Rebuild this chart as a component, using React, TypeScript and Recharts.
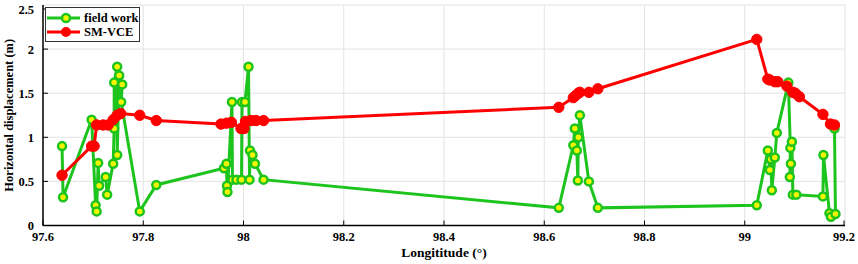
import React from 'react';
import { CartesianGrid, Line, LineChart, XAxis, YAxis } from 'recharts';

// field work (green), in the order the line visits them
const fieldLon = [
  97.638, 97.64, 97.697, 97.705, 97.707, 97.71, 97.712, 97.725, 97.728, 97.74,
  97.742, 97.742, 97.748, 97.748, 97.752, 97.758, 97.756, 97.793, 97.826,
  97.961, 97.966, 97.967, 97.968, 97.977, 97.978, 97.986, 97.996, 97.997, 98.003,
  98.01, 98.012, 98.013, 98.018, 98.023, 98.04,
  98.629, 98.658, 98.661, 98.665, 98.667, 98.668, 98.671, 98.689, 98.707,
  99.024, 99.046, 99.05, 99.052, 99.054, 99.06, 99.064, 99.087, 99.091, 99.09,
  99.092, 99.094, 99.096, 99.103, 99.156, 99.157, 99.169, 99.172, 99.181, 99.179,
];
const fieldVal = [
  0.9, 0.32, 1.2, 0.23, 0.16, 0.71, 0.45, 0.55, 0.35, 0.7,
  1.1, 1.62, 1.8, 0.8, 1.7, 1.6, 1.4, 0.16, 0.46,
  0.65, 0.7, 0.45, 0.38, 1.4, 0.52, 0.52, 0.52, 1.4, 1.4,
  1.8, 0.52, 0.85, 0.8, 0.7, 0.52,
  0.2, 0.91, 1.1, 0.85, 0.51, 1.0, 1.25, 0.5, 0.2,
  0.23, 0.85, 0.63, 0.75, 0.4, 0.77, 1.05, 1.62, 0.88, 0.55,
  0.7, 0.95, 0.35, 0.35, 0.33, 0.8, 0.14, 0.1, 0.13, 1.1,
];

// SM-VCE (red)
const smLon = [
  97.638, 97.697, 97.702, 97.707, 97.72, 97.73, 97.74, 97.748, 97.755, 97.793, 97.826,
  97.955, 97.966, 97.976, 97.995, 98.001, 98.004, 98.015, 98.025, 98.04,
  98.629, 98.658, 98.662, 98.668, 98.671, 98.689, 98.707,
  99.024, 99.046, 99.05, 99.06, 99.066, 99.084, 99.096, 99.101, 99.109, 99.156, 99.171, 99.179,
];
const smVal = [
  0.57, 0.9, 0.9, 1.14, 1.14, 1.14, 1.2, 1.25, 1.27, 1.25, 1.19,
  1.15, 1.16, 1.17, 1.1, 1.1, 1.18, 1.19, 1.19, 1.19,
  1.34, 1.45, 1.47, 1.5, 1.51, 1.51, 1.55,
  2.11, 1.66, 1.65, 1.63, 1.63, 1.58, 1.51, 1.5, 1.46, 1.26, 1.15, 1.14,
];

const xTicks = [97.6, 97.8, 98, 98.2, 98.4, 98.6, 98.8, 99, 99.2];
const yTicks = [0, 0.5, 1, 1.5, 2, 2.5];

const fieldData = fieldLon.map((lon, i) => ({ lon, value: fieldVal[i] }));
const smData = smLon.map((lon, i) => ({ lon, value: smVal[i] }));

const W = 858;
const H = 264;
const LEFT = 43;
const X_AXIS_H = 38.5;
const PLOT_BOTTOM = H - X_AXIS_H;
const FONT = '"Liberation Serif", "Times New Roman", serif';
const GREEN = '#1ec41e';
const RED = '#ff0000';

const fmt = (v: number) => String(Number(v.toFixed(1)));

const XTick = (props: any) => {
  const { x, payload } = props;
  return (
    <g>
      <line x1={x} y1={PLOT_BOTTOM} x2={x} y2={PLOT_BOTTOM - 5} stroke="#000" />
      <text x={x} y={PLOT_BOTTOM + 15} textAnchor="middle" fontFamily={FONT} fontWeight="bold" fontSize={12.5} fill="#000">
        {fmt(payload.value)}
      </text>
    </g>
  );
};

const YTick = (props: any) => {
  const { y, payload } = props;
  return (
    <g>
      <line x1={LEFT} y1={y} x2={LEFT + 5} y2={y} stroke="#000" />
      <text x={LEFT - 9} y={y + 4.5} textAnchor="end" fontFamily={FONT} fontWeight="bold" fontSize={12.5} fill="#000">
        {fmt(payload.value)}
      </text>
    </g>
  );
};

function LegendBox() {
  const rows = [
    { name: 'field work', color: GREEN, hollow: true },
    { name: 'SM-VCE', color: RED, hollow: false },
  ];
  return (
    <div
      style={{
        position: 'absolute',
        left: 45,
        top: 7,
        width: 95,
        height: 35,
        background: '#fff',
        border: '1px solid #333',
        boxSizing: 'border-box',
      }}
    >
      {rows.map((r, i) => (
        <div
          key={r.name}
          style={{ position: 'absolute', left: 0, top: 3 + i * 14, height: 14, display: 'flex', alignItems: 'center', whiteSpace: 'nowrap' }}
        >
          <svg width={36} height={14} style={{ flexShrink: 0 }}>
            <line x1={1} y1={7} x2={34} y2={7} stroke={r.color} strokeWidth={3} />
            {r.hollow ? (
              <circle cx={20} cy={7} r={4} fill="#f4f400" stroke={r.color} strokeWidth={2.5} />
            ) : (
              <circle cx={20} cy={7} r={5} fill={r.color} />
            )}
          </svg>
          <span style={{ fontFamily: FONT, fontWeight: 'bold', fontSize: 12.5, marginLeft: 2, color: '#000', lineHeight: '14px' }}>
            {r.name}
          </span>
        </div>
      ))}
    </div>
  );
}

export default function App() {
  return (
    <div style={{ position: 'absolute', left: 0, top: 0, width: W, height: H, background: '#fff' }}>
      <LineChart width={W} height={H} margin={{ top: 5, right: 13, bottom: 0, left: 0 }}>
        <CartesianGrid stroke="#e3e3e3" strokeWidth={1} />
        <XAxis
          dataKey="lon"
          type="number"
          domain={[97.6, 99.2]}
          ticks={xTicks}
          allowDataOverflow
          height={X_AXIS_H}
          tickSize={0}
          tickLine={false}
          tick={<XTick />}
          axisLine={{ stroke: '#000', strokeWidth: 1.5 }}
          label={{
            content: (p: any) => {
              const vb = p.viewBox;
              return (
                <text x={vb.x + vb.width / 2} y={vb.y + 31} textAnchor="middle" fontFamily={FONT} fontWeight="bold" fontSize={13.5} fill="#000">
                  Longititude (°)
                </text>
              );
            },
          }}
        />
        <XAxis
          xAxisId="top"
          dataKey="lon"
          type="number"
          orientation="top"
          mirror
          height={0}
          domain={[97.6, 99.2]}
          ticks={xTicks}
          allowDataOverflow
          tick={false}
          tickSize={5}
          tickLine={{ stroke: '#000' }}
          axisLine={{ stroke: '#000' }}
        />
        <YAxis
          type="number"
          domain={[0, 2.5]}
          ticks={yTicks}
          allowDataOverflow
          width={LEFT}
          tickSize={0}
          tickLine={false}
          tick={<YTick />}
          axisLine={{ stroke: '#000', strokeWidth: 1.5 }}
          label={{
            content: (p: any) => {
              const vb = p.viewBox;
              const cx = 9;
              const cy = vb.y + vb.height / 2;
              return (
                <text x={cx} y={cy} transform={`rotate(-90, ${cx}, ${cy})`} textAnchor="middle" dominantBaseline="central" fontFamily={FONT} fontWeight="bold" fontSize={12.5} fill="#000">
                  Horizontal displacement (m)
                </text>
              );
            },
          }}
        />
        <YAxis
          yAxisId="right"
          orientation="right"
          mirror
          width={0}
          type="number"
          domain={[0, 2.5]}
          ticks={yTicks}
          allowDataOverflow
          tick={false}
          tickSize={5}
          tickLine={{ stroke: '#000' }}
          axisLine={{ stroke: '#000' }}
        />
        <Line
          data={fieldData}
          dataKey="value"
          type="linear"
          stroke={GREEN}
          strokeWidth={3}
          dot={{ r: 4, stroke: GREEN, strokeWidth: 2.5, fill: '#f4f400' }}
          isAnimationActive={false}
        />
        <Line
          data={smData}
          dataKey="value"
          type="linear"
          stroke={RED}
          strokeWidth={3}
          dot={{ r: 5.2, stroke: RED, strokeWidth: 1, fill: RED }}
          isAnimationActive={false}
        />
      </LineChart>
      <LegendBox />
    </div>
  );
}
